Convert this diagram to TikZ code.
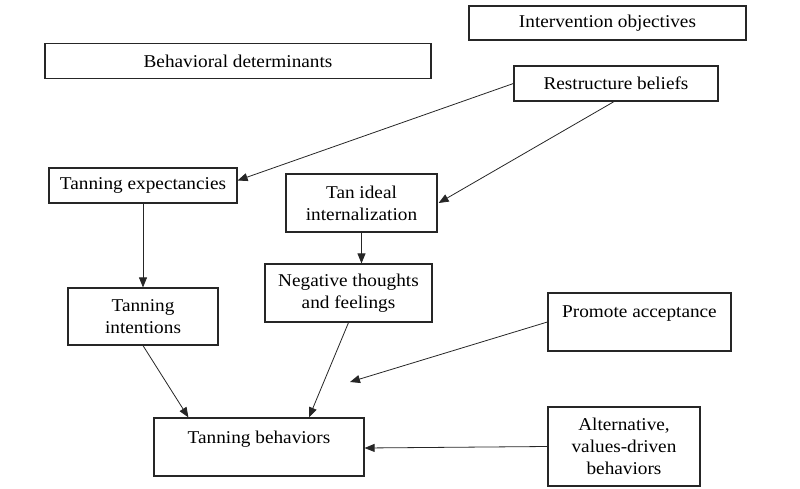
\documentclass[tikz,border=0pt]{standalone}
\usepackage{fontspec}
\setmainfont[FakeStretch=1.07]{Liberation Serif}
\usetikzlibrary{arrows.meta}
\begin{document}
\begin{tikzpicture}[x=1pt,y=-1pt,
  box/.style={draw=black!85, line width=1.2pt, inner sep=0pt, font=\fontsize{18}{22}\selectfont},
  conn/.style={draw=black!85, line width=0.8pt, -{Triangle[length=10pt,width=8pt]}}]
\useasboundingbox (0,0) rectangle (800,489);
\node[box, minimum width=277pt, minimum height=34pt] (io) at (607.5,23) {Intervention objectives};
\node[box, minimum width=386pt, minimum height=35pt] (bd) at (238,61) {Behavioral determinants};
\node[box, minimum width=204pt, minimum height=35pt] (rb) at (616,83.5) {Restructure beliefs};
\node[box, minimum width=188pt, minimum height=35pt] (te) at (143,185.5) {Tanning expectancies};
\node[box, align=center, minimum width=151pt, minimum height=58pt] (ti) at (361.5,203) {Tan ideal\\internalization};
\node[box, align=center, minimum width=167pt, minimum height=58pt] (nt) at (348.5,293) {Negative thoughts\\and feelings};
\node[box, align=center, minimum width=150pt, minimum height=57pt] (tint) at (143,316.5) {Tanning\\intentions};
\node[box, text height=13pt, text depth=22.4pt, minimum width=183pt, minimum height=58pt] (pa) at (639.5,322) {Promote acceptance};
\node[box, text height=13pt, text depth=21pt, minimum width=210pt, minimum height=58pt] (tb) at (259,447) {Tanning behaviors};
\node[box, align=center, minimum width=152pt, minimum height=79pt] (alt) at (624,446.5) {Alternative,\\values-driven\\behaviors};
\coordinate (pafree) at (350,382);
\draw[conn] (rb.west) -- ([yshift=5pt]te.east);
\draw[conn] ([xshift=-2pt]rb.south) -- ([xshift=1pt]ti.east);
\draw[conn] (te.south) -- (tint.north);
\draw[conn] (ti.south) -- (ti.south |- nt.north);
\draw[conn] (tint.south) -- ([xshift=35pt]tb.north west);
\draw[conn] (nt.south) -- ([xshift=50pt]tb.north);
\draw[conn] (pa.west) -- (pafree);
\draw[conn] (alt.west) -- ([yshift=-1pt]tb.east);
\end{tikzpicture}
\end{document}
